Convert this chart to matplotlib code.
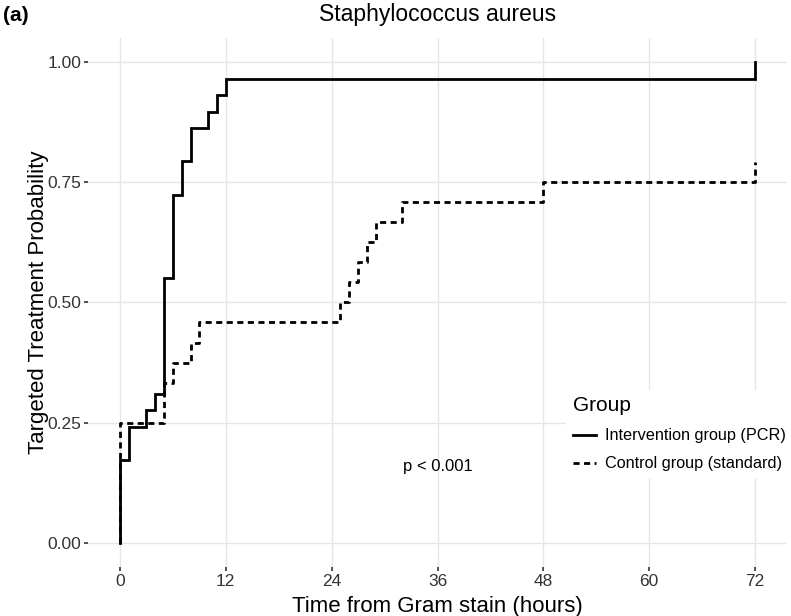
import numpy as np
import matplotlib
matplotlib.use("Agg")
import matplotlib.pyplot as plt
from matplotlib.lines import Line2D

plt.rcParams['font.family'] = ['Liberation Sans', 'DejaVu Sans']

# Kaplan-Meier style step data (hours from Gram stain, cumulative probability)
pcr_hours = [0, 0, 1, 3, 4, 5, 6, 7, 8, 10, 11, 12, 72]
pcr_prob = [0, 5/29, 7/29, 8/29, 9/29, 16/29, 21/29, 23/29, 25/29, 26/29, 27/29, 28/29, 1.0]

std_hours = [0, 0, 5, 6, 8, 9, 25, 26, 27, 28, 29, 32, 48, 72]
std_prob = [0, 6/24, 8/24, 9/24, 10/24, 11/24, 12/24, 13/24, 14/24, 15/24, 16/24, 17/24, 18/24, 19/24]

x_ticks = [0, 12, 24, 36, 48, 60, 72]
y_ticks = [0.0, 0.25, 0.5, 0.75, 1.0]
y_ticklabels = ['0.00', '0.25', '0.50', '0.75', '1.00']

group_labels = ['Intervention group (PCR)', 'Control group (standard)']

fig = plt.figure(figsize=(7.91, 6.16), dpi=100)
ax = fig.add_axes([0.1115, 0.0795, 0.8832, 0.859])

ax.step(pcr_hours, pcr_prob, where='post', color='black', lw=2.0, solid_joinstyle='miter')
ax.step(std_hours, std_prob, where='post', color='black', lw=2.0, dashes=(2.2, 1.6))

ax.set_xlim(-3.6, 75.6)
ax.set_ylim(-0.05, 1.05)
ax.set_xticks(x_ticks)
ax.set_yticks(y_ticks)
ax.set_yticklabels(y_ticklabels)

ax.grid(True, color='#e6e6e6', lw=1.0)
ax.set_axisbelow(True)
for s in ax.spines.values():
    s.set_visible(False)
ax.tick_params(length=3, width=1.2, color='#333333', labelcolor='#333333',
               labelsize=12.5, pad=2)

ax.set_title('Staphylococcus aureus', fontsize=16.5, pad=12)
ax.set_xlabel('Time from Gram stain (hours)', fontsize=16, labelpad=5)
ax.set_ylabel('Targeted Treatment Probability', fontsize=16, labelpad=-1)

ax.text(36, 0.16, 'p < 0.001', fontsize=12, ha='center', va='center')
fig.text(0.004, 0.975, '(a)', fontsize=15, fontweight='bold', ha='left', va='center')

handles = [Line2D([], [], color='black', lw=2.0),
           Line2D([], [], color='black', lw=2.0, dashes=(2.2, 1.6))]
leg = ax.legend(handles, group_labels, title='Group', loc='upper left',
                bbox_to_anchor=(0.673, 0.35), frameon=True, fontsize=11.7,
                title_fontsize=15, handlelength=1.4, handletextpad=0.6,
                borderpad=0.4, labelspacing=0.8)
leg._legend_box.align = 'left'
leg.get_frame().set_facecolor('white')
leg.get_frame().set_edgecolor('none')
leg.get_frame().set_alpha(1.0)

fig.savefig('out.png', dpi=100)
